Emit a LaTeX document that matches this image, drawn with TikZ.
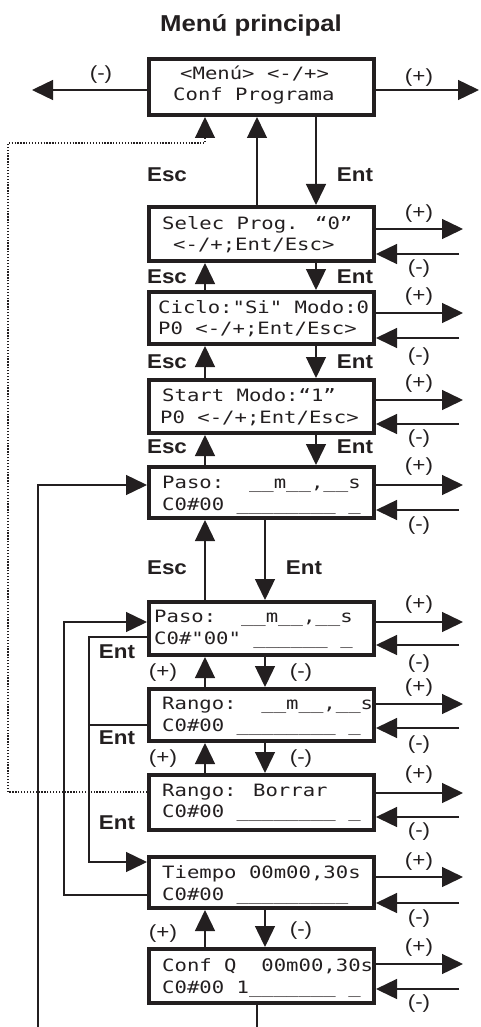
\documentclass[tikz,border=0pt]{standalone}
\usepackage{fontspec}
\setmainfont{Liberation Sans}
\newfontfamily\lcdfont{DejaVu Sans Mono}
\usetikzlibrary{arrows.meta}
\definecolor{ink}{HTML}{231F20}
\newcommand\lcdtxt[1]{\scalebox{1.212}[1]{\lcdfont\fontsize{17pt}{20pt}\selectfont #1}}
\newcommand\keytxt[1]{\scalebox{1.12}[1]{\bfseries\fontsize{20pt}{20pt}\selectfont #1}}
\newcommand\pmtxt[1]{\scalebox{1.18}[1]{\fontsize{19pt}{19pt}\selectfont #1}}
\tikzset{
  lcdbox/.style={draw=ink, line width=4pt, minimum width=225pt, inner sep=0pt, outer sep=2pt},
  lcdline/.style={anchor=base west, inner sep=0pt, text=ink},
  cn/.style={draw=ink, line width=1.4pt},
  arr/.style={cn, -{Triangle[length=21pt,width=20pt]}},
  dotline/.style={draw=ink, line width=1.3pt, dash pattern=on 1.3pt off 1.6pt, -{Triangle[length=21pt,width=20pt]}},
  keylbl/.style={inner sep=0pt, text=ink},
  pmlbl/.style={inner sep=0pt, text=ink},
}
\begin{document}
\begin{tikzpicture}[x=1pt,y=-1pt]
\useasboundingbox (0,0) rectangle (480,1027);
% title
\node[anchor=base, inner sep=0pt, text=ink] (title) at (251,32) {\scalebox{1.12}[1]{\bfseries\fontsize{23pt}{23pt}\selectfont Menú principal}};
% boxes
\node[lcdbox, minimum height=56pt] (b0) at (261.5,87) {};
\node[lcdbox, minimum height=54pt] (b1) at (261.5,234) {};
\node[lcdbox, minimum height=52pt] (b2) at (261.5,318) {};
\node[lcdbox, minimum height=53pt] (b3) at (261.5,406.5) {};
\node[lcdbox, minimum height=51pt] (b4) at (261.5,492.5) {};
\node[lcdbox, minimum height=53pt] (b5) at (261.5,628.5) {};
\node[lcdbox, minimum height=52pt] (b6) at (261.5,715) {};
\node[lcdbox, minimum height=55pt] (b7) at (261.5,802.5) {};
\node[lcdbox, minimum height=51pt] (b8) at (261.5,882.5) {};
\node[lcdbox, minimum height=54pt] (b9) at (261.5,976) {};
% box texts
\node[lcdline] (t0a) at (180,80) {\lcdtxt{<Menú> <-/+>}};
\node[lcdline] (t0b) at (173,101) {\lcdtxt{Conf Programa}};
\node[lcdline] (t1a) at (162,229) {\lcdtxt{Selec Prog. “0”}};
\node[lcdline] (t1b) at (173,250) {\lcdtxt{<-/+;Ent/Esc>}};
\node[lcdline] (t2a) at (158,313) {\lcdtxt{Ciclo:"Si" Modo:0}};
\node[lcdline] (t2b) at (158,334) {\lcdtxt{P0 <-/+;Ent/Esc>}};
\node[lcdline] (t3a) at (162,401) {\lcdtxt{Start Modo:“1”}};
\node[lcdline] (t3b) at (160,423) {\lcdtxt{P0 <-/+;Ent/Esc>}};
\node[lcdline] (t4a) at (162,488) {\lcdtxt{Paso:\ \ \_\_m\_\_,\_\_s}};
\node[lcdline] (t4b) at (162,510) {\lcdtxt{C0\#00 \_\_\_\_\_\_\_\_ \_}};
\node[lcdline] (t5a) at (154,622) {\lcdtxt{Paso:\ \ \_\_m\_\_,\_\_s}};
\node[lcdline] (t5b) at (154,644) {\lcdtxt{C0\#"00" \_\_\_\_\_\_ \_}};
\node[lcdline] (t6a) at (162,709) {\lcdtxt{Rango:\ \ \_\_m\_\_,\_\_s}};
\node[lcdline] (t6b) at (162,731) {\lcdtxt{C0\#00 \_\_\_\_\_\_\_\_ \_}};
\node[lcdline] (t7a) at (162,796) {\lcdtxt{Rango: Borrar}};
\node[lcdline] (t7b) at (162,817) {\lcdtxt{C0\#00 \_\_\_\_\_\_\_\_ \_}};
\node[lcdline] (t8a) at (162,878) {\lcdtxt{Tiempo 00m00,30s}};
\node[lcdline] (t8b) at (162,900) {\lcdtxt{C0\#00 \_\_\_\_\_\_\_\_\_}};
\node[lcdline] (t9a) at (162,971) {\lcdtxt{Conf Q\ \ 00m00,30s}};
\node[lcdline] (t9b) at (162,993) {\lcdtxt{C0\#00 1\_\_\_\_\_\_\_ \_}};
% top side arrows
\coordinate (tl) at (32,90);
\coordinate (tr) at (479,90);
\draw[arr] (b0.west |- tl) -- (tl);
\draw[arr] (b0.east |- tr) -- (tr);
\node[pmlbl] (tm) at (101,75) {\pmtxt{(-)}};
\node[pmlbl] (tp) at (419,78) {\pmtxt{(+)}};
% right side arrows
\foreach \b/\ya/\yb/\lp/\lm in {b1/229/254/214/269, b2/313/338/297/357, b3/400/424/384/439, b4/485/510/467/526, b5/622/645/605/664, b6/704/728/688/745, b7/793/817/775/832, b8/877/903/862/919, b9/964/989/948/1004}{
  \coordinate (ra\b) at (463,\ya);
  \coordinate (rb\b) at (459,\yb);
  \draw[arr] (\b.east |- ra\b) -- (ra\b);
  \draw[arr] (rb\b) -- (\b.east |- rb\b);
  \node[pmlbl] (lp\b) at (419,\lp) {\pmtxt{(+)}};
  \node[pmlbl] (lm\b) at (419,\lm) {\pmtxt{(-)}};
}
% columns
\coordinate (xA) at (205,0);
\coordinate (xB) at (257,0);
\coordinate (xC) at (316,0);
\coordinate (xD) at (265,0);
% b0 - b1
\draw[arr] (xB |- b1.north) -- (xB |- b0.south);
\draw[arr] (xC |- b0.south) -- (xC |- b1.north);
\node[keylbl] (e01) at (167,175) {\keytxt{Esc}};
\node[keylbl] (n01) at (355,175) {\keytxt{Ent}};
% b1 - b2
\draw[arr] (xA |- b2.north) -- (xA |- b1.south);
\draw[arr] (xC |- b1.south) -- (xC |- b2.north);
\node[keylbl] (e12) at (167,277) {\keytxt{Esc}};
\node[keylbl] (n12) at (355,277) {\keytxt{Ent}};
% b2 - b3
\draw[arr] (xA |- b3.north) -- (xA |- b2.south);
\draw[arr] (xC |- b2.south) -- (xC |- b3.north);
\node[keylbl] (e23) at (167,362) {\keytxt{Esc}};
\node[keylbl] (n23) at (355,362) {\keytxt{Ent}};
% b3 - b4
\draw[arr] (xA |- b4.north) -- (xA |- b3.south);
\draw[arr] (xC |- b3.south) -- (xC |- b4.north);
\node[keylbl] (e34) at (167,447) {\keytxt{Esc}};
\node[keylbl] (n34) at (355,447) {\keytxt{Ent}};
% b4 - b5
\draw[arr] (xA |- b5.north) -- (xA |- b4.south);
\draw[arr] (xD |- b4.south) -- (xD |- b5.north);
\node[keylbl] (e45) at (167,568) {\keytxt{Esc}};
\node[keylbl] (n45) at (304,568) {\keytxt{Ent}};
% b5 - b6
\draw[arr] (xA |- b6.north) -- (xA |- b5.south);
\draw[arr] (xD |- b5.south) -- (xD |- b6.north);
\node[pmlbl] (p56) at (163,673) {\pmtxt{(+)}};
\node[pmlbl] (m56) at (301,673) {\pmtxt{(-)}};
% b6 - b7
\draw[arr] (xA |- b7.north) -- (xA |- b6.south);
\draw[arr] (xD |- b6.south) -- (xD |- b7.north);
\node[pmlbl] (p67) at (163,759) {\pmtxt{(+)}};
\node[pmlbl] (m67) at (301,759) {\pmtxt{(-)}};
% b8 - b9
\draw[arr] (xA |- b9.north) -- (xA |- b8.south);
\draw[arr] (xD |- b8.south) -- (xD |- b9.north);
\node[pmlbl] (p89) at (163,934) {\pmtxt{(+)}};
\node[pmlbl] (m89) at (301,931) {\pmtxt{(-)}};
% bottom line
\coordinate (bot) at (257,1027);
\draw[cn] (xB |- b9.south) -- (bot);
% left loops
\coordinate (lb) at (38,1027);
\coordinate (y485) at (0,485);
\draw[arr] (lb) |- (b4.west |- y485);
\coordinate (k1) at (64,895);
\coordinate (k2) at (64,622);
\draw[arr] (b8.west |- k1) -- (k1) -- (k2) -- (b5.west |- k2);
\coordinate (k3) at (89,637);
\coordinate (k4) at (89,862);
\coordinate (k5) at (89,725);
\draw[arr] (b5.west |- k3) -- (k3) -- (k4) -- (b8.west |- k4);
\draw[cn] (b6.west |- k5) -- (k5);
\node[keylbl] (n5) at (117,652) {\keytxt{Ent}};
\node[keylbl] (n6) at (117,738) {\keytxt{Ent}};
\node[keylbl] (n7) at (117,823) {\keytxt{Ent}};
% dotted return
\coordinate (d1) at (8,792);
\coordinate (d2) at (8,143);
\coordinate (d3) at (205,143);
\draw[dotline] (b7.west |- d1) -- (d1) -- (d2) -- (d3) -- (d3 |- b0.south);
\end{tikzpicture}
\end{document}
